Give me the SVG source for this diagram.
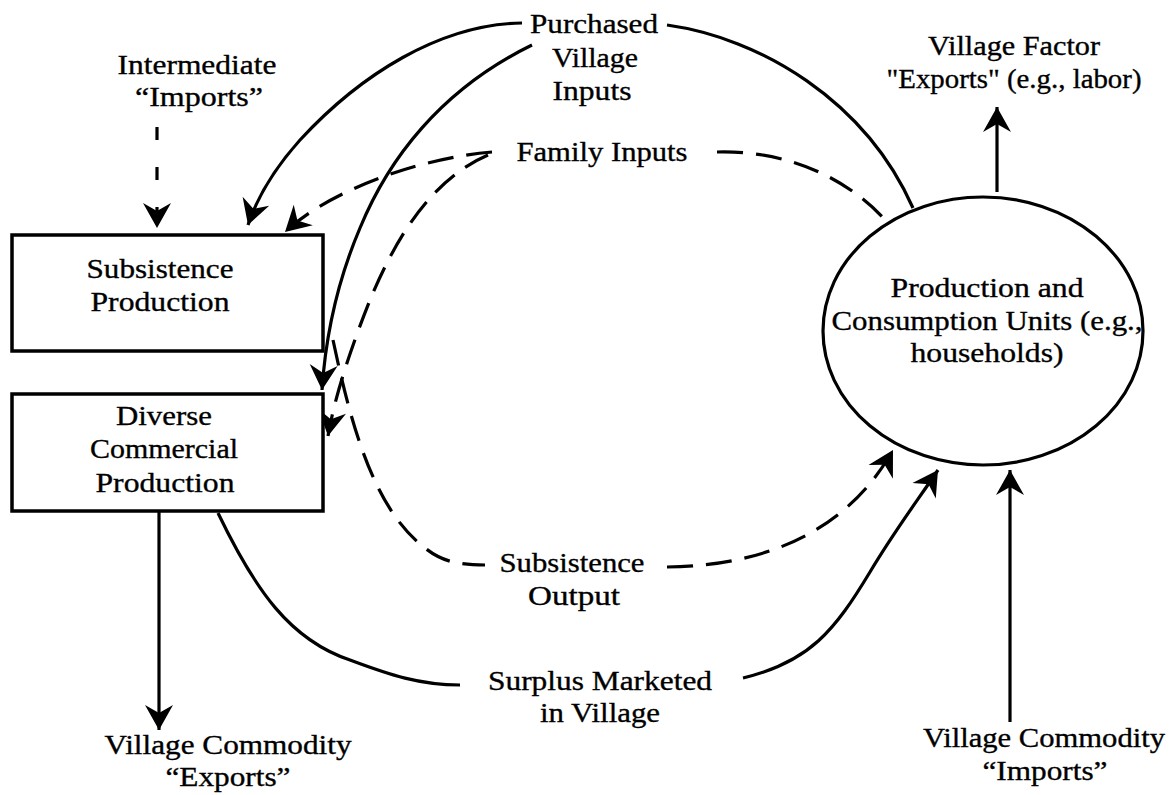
<svg xmlns="http://www.w3.org/2000/svg" width="1174" height="795" viewBox="0 0 1174 795">
  <style>
    .bg { fill: #ffffff; }
    .box { fill: #ffffff; stroke: #000000; stroke-width: 3.5; }
    .unit { fill: #ffffff; stroke: #000000; stroke-width: 3.2; }
    .lbl { font-family: "Liberation Serif", "Times New Roman", serif; font-size: 28px; fill: #000000; stroke: #000000; stroke-width: 0.35; text-anchor: middle; }
    .flow { fill: none; stroke: #000000; stroke-width: 3.2; }
    .dash { stroke-dasharray: 26 13; }
    .shortdash { stroke-dasharray: 13 27; }
  </style>
  <defs>
    <marker id="arrow" viewBox="-26 -15 28 30" markerWidth="28" markerHeight="30" refX="0" refY="0" orient="auto" markerUnits="userSpaceOnUse" overflow="visible">
      <path d="M0,0 L-25,-14 L-17,0 L-25,14 Z" fill="#000000"/>
    </marker>
  </defs>

  <rect class="bg" x="0" y="0" width="1174" height="795"/>

  <!-- flows between the production blocks and the household units -->
  <g id="connectors">
    <!-- purchased village inputs -->
    <path class="flow" d="M522,23 C440,24 360,75 300,140 C275,168 258,195 248,225" marker-end="url(#arrow)"/>
    <path class="flow" d="M532,45 C440,90 388,160 360,228 C340,275 326,330 322,390" marker-end="url(#arrow)"/>
    <path class="flow" d="M667,25 C760,38 865,100 913,208"/>
    <!-- family inputs -->
    <path class="flow dash" d="M492,152 C420,158 330,190 285,232" marker-end="url(#arrow)"/>
    <path class="flow dash" d="M488,155 C430,180 395,240 370,300 C352,345 335,395 328,436" marker-end="url(#arrow)"/>
    <path class="flow dash" d="M717,152 C790,150 850,180 887,222"/>
    <!-- intermediate imports -->
    <path class="flow shortdash" d="M157,127 L157,228" marker-end="url(#arrow)"/>
    <!-- subsistence output -->
    <path class="flow dash" d="M333,340 C352,430 375,510 425,548 C440,560 455,565 485,565"/>
    <path class="flow dash" d="M667,567 C760,566 845,535 893,450" marker-end="url(#arrow)"/>
    <!-- surplus marketed in village -->
    <path class="flow" d="M218,513 C255,590 290,640 350,660 C390,675 420,685 460,685"/>
    <path class="flow" d="M743,678 C810,662 835,630 870,572 C895,530 918,500 938,470" marker-end="url(#arrow)"/>
    <!-- exports and imports -->
    <path class="flow" d="M159,512 L159,730" marker-end="url(#arrow)"/>
    <path class="flow" d="M997,192 L997,107" marker-end="url(#arrow)"/>
    <path class="flow" d="M1010,722 L1010,470" marker-end="url(#arrow)"/>
  </g>

  <g id="subsistence-production">
    <rect class="box" x="12" y="235" width="311" height="116"/>
    <text class="lbl" x="160" y="278" textLength="147" lengthAdjust="spacingAndGlyphs">Subsistence</text>
    <text class="lbl" x="160" y="311" textLength="139" lengthAdjust="spacingAndGlyphs">Production</text>
  </g>

  <g id="commercial-production">
    <rect class="box" x="12" y="394" width="311" height="117"/>
    <text class="lbl" x="164" y="425" textLength="96" lengthAdjust="spacingAndGlyphs">Diverse</text>
    <text class="lbl" x="164" y="458" textLength="148" lengthAdjust="spacingAndGlyphs">Commercial</text>
    <text class="lbl" x="165" y="492" textLength="139" lengthAdjust="spacingAndGlyphs">Production</text>
  </g>

  <g id="household-units">
    <ellipse class="unit" cx="983" cy="331" rx="160" ry="134"/>
    <text class="lbl" x="987" y="297" textLength="193" lengthAdjust="spacingAndGlyphs">Production and</text>
    <text class="lbl" x="987" y="330" textLength="311" lengthAdjust="spacingAndGlyphs">Consumption Units (e.g.,</text>
    <text class="lbl" x="987" y="362" textLength="153" lengthAdjust="spacingAndGlyphs">households)</text>
  </g>

  <g id="intermediate-imports">
    <text class="lbl" x="197" y="74" textLength="159" lengthAdjust="spacingAndGlyphs">Intermediate</text>
    <text class="lbl" x="199" y="106" textLength="128" lengthAdjust="spacingAndGlyphs">“Imports”</text>
  </g>

  <g id="purchased-inputs">
    <text class="lbl" x="594" y="33" textLength="128" lengthAdjust="spacingAndGlyphs">Purchased</text>
    <text class="lbl" x="595" y="67" textLength="86" lengthAdjust="spacingAndGlyphs">Village</text>
    <text class="lbl" x="592" y="100" textLength="79" lengthAdjust="spacingAndGlyphs">Inputs</text>
  </g>

  <g id="family-inputs">
    <text class="lbl" x="602" y="161" textLength="171" lengthAdjust="spacingAndGlyphs">Family Inputs</text>
  </g>

  <g id="factor-exports">
    <text class="lbl" x="1014" y="55" textLength="172" lengthAdjust="spacingAndGlyphs">Village Factor</text>
    <text class="lbl" x="1014" y="88" textLength="255" lengthAdjust="spacingAndGlyphs">"Exports" (e.g., labor)</text>
  </g>

  <g id="subsistence-output">
    <text class="lbl" x="572" y="572" textLength="145" lengthAdjust="spacingAndGlyphs">Subsistence</text>
    <text class="lbl" x="574" y="605" textLength="92" lengthAdjust="spacingAndGlyphs">Output</text>
  </g>

  <g id="surplus-marketed">
    <text class="lbl" x="600" y="690" textLength="224" lengthAdjust="spacingAndGlyphs">Surplus Marketed</text>
    <text class="lbl" x="600" y="722" textLength="120" lengthAdjust="spacingAndGlyphs">in Village</text>
  </g>

  <g id="commodity-exports">
    <text class="lbl" x="228" y="754" textLength="247" lengthAdjust="spacingAndGlyphs">Village Commodity</text>
    <text class="lbl" x="228" y="786" textLength="125" lengthAdjust="spacingAndGlyphs">“Exports”</text>
  </g>

  <g id="commodity-imports">
    <text class="lbl" x="1044" y="747" textLength="242" lengthAdjust="spacingAndGlyphs">Village Commodity</text>
    <text class="lbl" x="1045" y="780" textLength="125" lengthAdjust="spacingAndGlyphs">“Imports”</text>
  </g>
</svg>
